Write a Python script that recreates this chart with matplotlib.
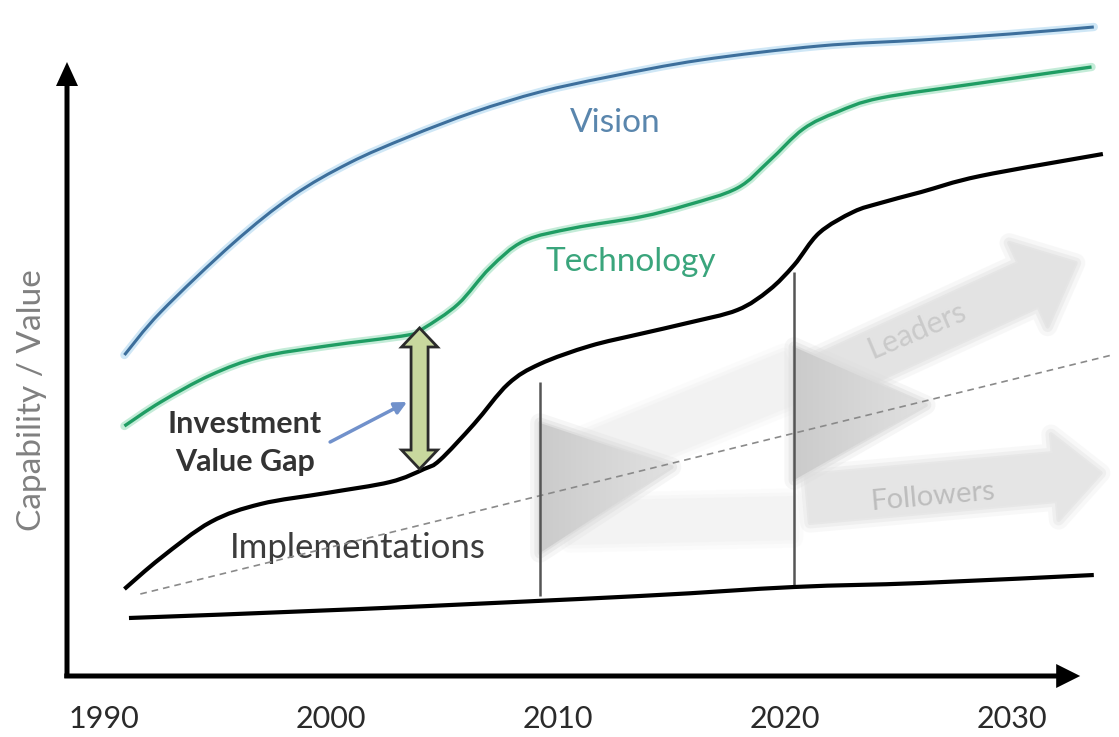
import numpy as np
import matplotlib
matplotlib.use("Agg")
import matplotlib.pyplot as plt
from matplotlib.patches import Polygon, PathPatch
from matplotlib.path import Path
from matplotlib.colors import LinearSegmentedColormap
from matplotlib.transforms import IdentityTransform

plt.rcParams['font.family'] = ['Lato', 'DejaVu Sans']

# --- curves: year vs capability / value (arbitrary units) ---
vision_years = [1990.9, 1992.5, 1995.7, 1998.3, 2000.8, 2003.4, 2006.3, 2009.2, 2012.2, 2016.3, 2021.5, 2026.0, 2029.9, 2033.6]
vision_vals = [321, 364, 433, 480, 513, 539, 564, 584, 599, 616, 630, 636, 642, 649]

tech_years = [1990.9, 1992.5, 1994.7, 1996.9, 1999.8, 2003.4, 2004.1, 2005.6, 2007.0, 2008.5, 2010.7,
              2013.6, 2015.7, 2017.9, 2019.3, 2020.8, 2022.3, 2024.2, 2028.6, 2033.5]
tech_vals = [250, 274, 301, 319, 330, 341, 348, 372, 408, 435, 448, 459, 471, 488, 515, 547, 564, 578, 593, 609]

impl_years = [1990.9, 1992.5, 1994.7, 1996.9, 1999.8, 2002.6, 2004.1, 2004.8, 2006.3, 2007.8, 2009.2, 2011.4,
              2013.6, 2015.7, 2017.9, 2019.3, 2020.4, 2021.5, 2023.0, 2024.2, 2026.0, 2028.6, 2034.0]
impl_vals = [87, 118, 154, 172, 183, 194, 207, 216, 252, 292, 312, 330, 342, 353, 366, 386, 411, 443, 464, 473, 484, 500, 522]

base_years = [1991.1, 2001.3, 2013.6, 2020.4, 2026.0, 2033.6]
base_vals = [58, 67, 80, 89, 93, 101]

trend_years = [1991.6, 2034.4]
trend_vals = [82, 321]

# adoption eras (vertical markers)
era_years = [2009.2, 2020.4]
era_low = [80, 89]
era_high = [294, 404]

# investment value gap
gap_year = 2003.9
gap_low, gap_high = 207, 348

tick_years = [1990, 2000, 2010, 2020, 2030]

fig = plt.figure(figsize=(11.19, 7.37), dpi=100)
ax = fig.add_axes([67 / 1119, 61 / 737, 1052 / 1119, 676 / 737])
ax.set_xlim(1988.37, 2034.71)
ax.set_ylim(0, 676)
for s in ax.spines.values():
    s.set_visible(False)
ax.set_yticks([])
ax.set_xticks(tick_years)
ax.set_xticklabels([str(y) for y in tick_years], fontsize=22, color='#2a2a2a')
ax.tick_params(axis='x', length=0, pad=21)
ax.set_ylabel('Capability / Value', fontsize=24, color='#808080')
ax.yaxis.set_label_coords(-0.019, 0.408)


def smooth_curve(xs, ys, **kw):
    # Catmull-Rom through the points, drawn as cubic Bezier segments
    p = np.column_stack([xs, ys]).astype(float)
    ext = np.vstack([p[0], p, p[-1]])
    verts, codes = [p[0]], [Path.MOVETO]
    for i in range(1, len(ext) - 2):
        c1 = ext[i] + (ext[i + 1] - ext[i - 1]) / 6
        c2 = ext[i + 1] - (ext[i + 2] - ext[i]) / 6
        verts += [c1, c2, ext[i + 1]]
        codes += [Path.CURVE4] * 3
    ax.add_patch(PathPatch(Path(verts, codes), fill=False, **kw))


def fat_arrow(start, end, shaft, head_w, head_l, double=False, **kw):
    # polygon arrow built in pixel space so the head keeps its shape
    p0 = ax.transData.transform(start)
    p1 = ax.transData.transform(end)
    d = p1 - p0
    u = d / np.hypot(*d)
    n = np.array([-u[1], u[0]])
    s, h = shaft / 2, head_w / 2
    b1 = p1 - u * head_l
    if double:
        b0 = p0 + u * head_l
        pts = [p0, b0 - n * h, b0 - n * s, b1 - n * s, b1 - n * h, p1, b1 + n * h, b1 + n * s, b0 + n * s, b0 + n * h]
    else:
        pts = [p0 - n * s, b1 - n * s, b1 - n * h, p1, b1 + n * h, b1 + n * s, p0 + n * s]
    patch = Polygon(pts, closed=True, transform=IdentityTransform(), clip_on=False, **kw)
    ax.add_patch(patch)
    return patch


def soften(make, color, z):
    # fuzzy edge: a few wide translucent outlines under the fill
    for lw, a in [(14, 0.25), (8, 0.45), (3, 0.8)]:
        make(fc='none', ec=color, lw=lw, alpha=a, joinstyle='round', zorder=z)
    make(fc=color, ec='none', zorder=z)


def soft_arrow(start, end, shaft, head_w, head_l, color, z=1):
    soften(lambda **kw: fat_arrow(start, end, shaft, head_w, head_l, **kw), color, z)


# first era: faint leader / follower paths
soft_arrow((2011.2, 215), (2020.4, 300), 50, 50, 1, '#f2f2f2')
soft_arrow((2010.5, 153), (2020.4, 158), 40, 40, 1, '#f3f3f3')

# second era arrows
soft_arrow((2021.2, 292), (2032.8, 413), 48, 92, 52, '#e3e3e3')
soft_arrow((2021.0, 177), (2033.9, 203), 48, 86, 46, '#e5e5e5')

# spread triangles at each era marker, shaded darker near the base
spread_cmap = LinearSegmentedColormap.from_list('spread', ['#cbcbcb', '#d6d6d6', '#e1e1e1'])
tri_spread = [(253, 123, 2015.0, 209), (329, 196, 2026.2, 271)]
for x0, (top, bot, tip_x, tip_y) in zip(era_years, tri_spread):
    verts = [(x0, top), (tip_x, tip_y), (x0, bot)]
    soften(lambda **kw: ax.add_patch(Polygon(verts, closed=True, **kw)), '#dcdcdc', 2)
    tri = Polygon(verts, closed=True, fc='none', ec='none')
    ax.add_patch(tri)
    shade = np.linspace(0.0, 1.0, 64).reshape(1, -1)
    img = ax.imshow(shade, extent=(x0, tip_x, bot, top), aspect='auto', cmap=spread_cmap,
                    vmin=0, vmax=1, zorder=2, interpolation='bilinear')
    img.set_clip_path(tri)

ax.text(2025.8, 346, 'Leaders', fontsize=22, color='#cacaca', rotation=23, ha='center', va='center', zorder=3)
ax.text(2026.5, 179, 'Followers', fontsize=21, color='#bdbdbd', rotation=5, ha='center', va='center', zorder=3)

# trend line and era markers
ax.plot(trend_years, trend_vals, ls=(0, (4, 3)), color='#8a8a8a', lw=1.2, zorder=4)
ax.vlines(era_years, era_low, era_high, color='#555555', lw=1.8, zorder=4)

# main curves
smooth_curve(vision_years, vision_vals, ec='#cfe7f6', lw=6, zorder=5, capstyle='round')
smooth_curve(vision_years, vision_vals, ec='#3d6f9c', lw=2.2, zorder=6)
smooth_curve(tech_years, tech_vals, ec='#c4ecd8', lw=6, zorder=5, capstyle='round')
smooth_curve(tech_years, tech_vals, ec='#1f9d63', lw=2.4, zorder=6)
smooth_curve(impl_years, impl_vals, ec='black', lw=3.0, zorder=6)
smooth_curve(base_years, base_vals, ec='black', lw=3.0, zorder=6)

# axes arrows
fat_arrow((1988.37, -2), (1988.37, 614), 5, 22, 24, fc='black', ec='none', zorder=7)
fat_arrow((1988.25, 0), (2033.0, 0), 5, 24, 24, fc='black', ec='none', zorder=7)

# investment value gap
fat_arrow((gap_year, gap_low), (gap_year, gap_high), 17, 36, 19, double=True,
          fc='#c8d89e', ec='#2b2b2b', lw=2, zorder=8)
ax.annotate('', xy=(2003.35, 274), xytext=(1999.96, 234),
            arrowprops=dict(arrowstyle='-|>', color='#7191cb', lw=2.5, mutation_scale=18,
                            shrinkA=0, shrinkB=0), zorder=8)

ax.text(2012.5, 553, 'Vision', fontsize=24, color='#5a86ad', ha='center', va='center')
ax.text(2013.2, 414, 'Technology', fontsize=24, color='#3aa57c', ha='center', va='center')
ax.text(2001.2, 128, 'Implementations', fontsize=25, color='#3c3c3c', ha='center', va='center')
ax.text(1996.2, 233, 'Investment\nValue Gap', fontsize=22, fontweight='bold', color='#333333',
        ha='center', va='center', linespacing=1.45)

fig.savefig('out.png', dpi=100)
